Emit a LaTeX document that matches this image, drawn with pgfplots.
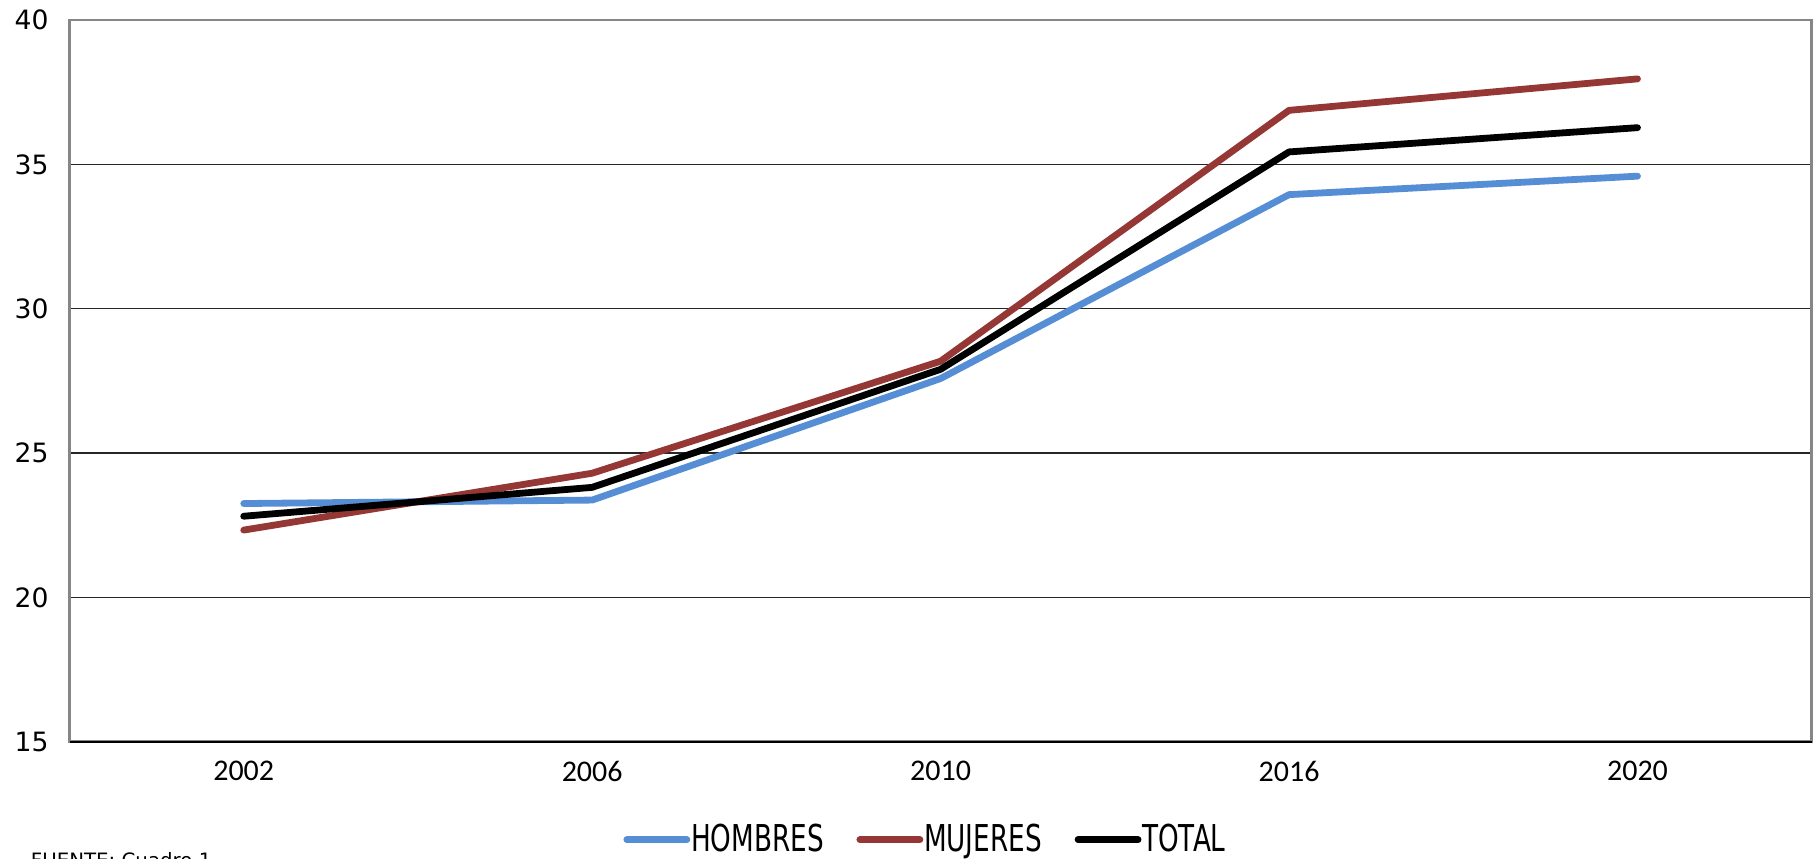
\documentclass[border=0pt]{standalone}
\usepackage{fontspec}
\setmainfont{DejaVu Sans}
\newfontfamily\carlito{Carlito}
\newfontfamily\legfont[FakeStretch=0.71]{DejaVu Sans}
\usepackage{pgfplots}
\pgfplotsset{compat=1.18}
\definecolor{hblue}{HTML}{558ED5}
\definecolor{mred}{HTML}{953735}
\definecolor{framegray}{HTML}{868686}

\begin{document}
\begin{tikzpicture}
\begin{axis}[
  at={(0,0)}, anchor=south west,
  scale only axis, width=871.1pt, height=360.85pt,
  xmin=-0.5, xmax=4.5, ymin=15, ymax=40,
  xtick={0,1,2,3,4}, xticklabels={2002,2006,2010,2016,2020},
  ytick={15,20,25,30,35,40},
  major tick length=0pt,
  ymajorgrids, grid style={black!85, line width=0.6pt},
  axis line style={framegray, line width=1.3pt},
  /pgf/number format/assume math mode=true,
  yticklabel style={font=\fontsize{13.3}{13.3}\selectfont, xshift=-7pt},
  xticklabel style={font=\carlito\fontsize{15}{15}\selectfont, yshift=-6pt},
  legend columns=3,
  legend style={at={(0.491,0)}, anchor=center, yshift=-49pt, draw=none, fill=none,
    font=\legfont\fontsize{18.5}{18.5}\selectfont,
    column sep=0pt,
    /tikz/every even column/.append style={column sep=16pt},
    nodes={inner xsep=0.4pt, inner ysep=0pt}},
  legend image code/.code={\draw[#1] (0pt,0pt) -- (30pt,0pt);},
  every axis plot/.append style={line width=3.4pt, line cap=round, line join=round},
]
\addplot[hblue] coordinates {(0,23.25) (1,23.37) (2,27.58) (3,33.95) (4,34.59)};
\addlegendentry{HOMBRES}
\addplot[mred] coordinates {(0,22.33) (1,24.30) (2,28.18) (3,36.87) (4,37.96)};
\addlegendentry{MUJERES}
\addplot[black] coordinates {(0,22.81) (1,23.81) (2,27.90) (3,35.43) (4,36.27)};
\addlegendentry{TOTAL}
\coordinate (sw) at (rel axis cs:0,0);
\coordinate (se) at (rel axis cs:1,0);
\coordinate (ne) at (rel axis cs:1,1);
\end{axis}
\draw[black, line width=1.1pt] (sw) -- (se);
\node[anchor=north west, inner sep=0pt, font=\fontsize{9.9}{9.9}\selectfont] at ([shift={(-19.5pt,-55pt)}]sw) {FUENTE: Cuadro 1};
\pgfresetboundingbox
\useasboundingbox ([shift={(-34.75pt,-58.65pt)}]sw) rectangle ([shift={(2.15pt,10pt)}]ne);
\end{tikzpicture}
\end{document}
